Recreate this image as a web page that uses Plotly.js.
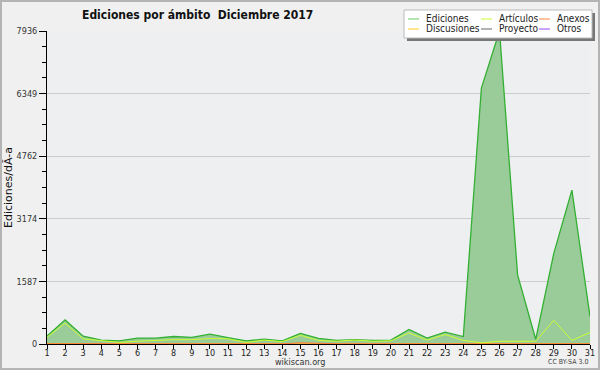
<!DOCTYPE html>
<html><head><meta charset="utf-8">
<script src="https://cdn.plot.ly/plotly-3.0.1.min.js"></script>
<style>
html,body{margin:0;padding:0;background:#f0f0f0;}
#wrap{width:596px;height:366px;border:2px solid #b4b4b4;}
#chart{width:596px;height:366px;}
</style></head>
<body><div id="wrap"><div id="chart"></div></div>
<script>
const days = Array.from({length:31},(_,i)=>i+1);
const ediciones = [200,610,200,100,80,150,150,190,170,250,160,80,120,80,270,140,90,110,90,100,370,150,300,190,6490,7936,1750,120,2300,3900,700];
const articulos = [170,530,130,90,40,70,90,110,110,140,130,40,100,60,220,90,70,100,70,80,280,100,240,90,30,70,70,70,600,90,290];
const anexos = [5,10,15,10,5,5,5,5,5,5,5,5,5,5,30,10,5,5,5,5,5,5,5,5,5,5,5,5,5,5,5];
const discusiones = [10,15,20,10,10,10,10,10,10,10,10,10,10,10,10,10,10,10,10,10,10,10,10,10,10,10,10,10,10,10,10];
const proyecto = [0,0,0,0,0,0,0,0,0,0,0,0,0,0,0,0,0,0,0,0,0,0,0,0,0,0,0,0,0,0,0];
const otros = [0,0,0,0,0,0,0,0,0,0,0,0,0,0,0,0,0,0,0,0,0,0,0,0,0,0,0,0,0,0,0];
const yTickVals = [0,1587.2,3174.4,4761.6,6348.8,7936];
const yTickText = ['0','1587','3174','4762','6349','7936'];
const legendNames = ['Ediciones','Artículos','Anexos','Discusiones','Proyecto','Otros'];
const colors = {Ediciones:'#33b033',Artículos:'#ccff33',Anexos:'#ff7733',Discusiones:'#ffcc33',Proyecto:'#555555',Otros:'#9933ff'};
const legendColors = ['#66cc66','#ccff33','#ff8844','#ffcc22','#666666','#9944ff'];

const FONT = 'DejaVu Sans, sans-serif';
const CFONT = 'DejaVu Sans Condensed, DejaVu Sans, sans-serif';
// pixel helpers (page pixels -> paper coords of the plot area)
const L=47,R=590,T=31,B=344;
const px=x=>(x-L)/(R-L), py=y=>(B-y)/(B-T);

const traces = [
 {x:days,y:ediciones,name:'Ediciones',mode:'lines',fill:'tozeroy',fillcolor:'#99cc99',line:{color:colors['Ediciones'],width:1.3}},
 {x:days,y:otros,name:'Otros',mode:'lines',line:{color:colors['Otros'],width:1}},
 {x:days,y:proyecto,name:'Proyecto',mode:'lines',line:{color:colors['Proyecto'],width:1}},
 {x:days,y:discusiones,name:'Discusiones',mode:'lines',line:{color:colors['Discusiones'],width:1}},
 {x:days,y:anexos,name:'Anexos',mode:'lines',line:{color:colors['Anexos'],width:1}},
 {x:days,y:articulos,name:'Artículos',mode:'lines',line:{color:colors['Artículos'],width:1}}
];

const shapes = [];
const annotations = [];
// legend box with shadow
shapes.push({type:'rect',xref:'paper',yref:'paper',x0:px(407),x1:px(595),y0:py(41),y1:py(13),fillcolor:'#777777',line:{width:0},layer:'above'});
shapes.push({type:'rect',xref:'paper',yref:'paper',x0:px(404),x1:px(592),y0:py(38),y1:py(10),fillcolor:'#ffffff',line:{color:'#bbbbbb',width:1},layer:'above'});
const colX=[[408,424],[481,497],[539,555]];
const rowY=[19,29];
legendNames.forEach((n,i)=>{
  const c=i%3,r=Math.floor(i/3);
  shapes.push({type:'line',xref:'paper',yref:'paper',x0:px(colX[c][0]),x1:px(colX[c][0]+11),y0:py(rowY[r]),y1:py(rowY[r]),line:{color:legendColors[i],width:1},layer:'above'});
  annotations.push({xref:'paper',yref:'paper',x:px(colX[c][1]),y:py(rowY[r]),xanchor:'left',yanchor:'middle',text:n,showarrow:false,font:{family:CFONT,size:10,color:'#222'}});
});
annotations.push({xref:'paper',yref:'paper',x:px(300),y:py(362),xanchor:'center',yanchor:'middle',text:'wikiscan.org',showarrow:false,font:{family:CFONT,size:9,color:'#333'}});
annotations.push({xref:'paper',yref:'paper',x:px(590),y:py(362),xanchor:'right',yanchor:'middle',text:'CC BY-SA 3.0',showarrow:false,font:{family:CFONT,size:7,color:'#444'}});

const layout = {
 width:596,height:366,
 paper_bgcolor:'#f0f0f0',plot_bgcolor:'#eeeff1',
 margin:{l:45,r:8,t:29,b:24,pad:0},
 showlegend:false,
 title:{text:'<b>Ediciones por ámbito  Diciembre 2017</b>',x:197/600,xanchor:'center',xref:'container',y:1-13/366,yanchor:'middle',yref:'container',font:{family:CFONT,size:12,color:'#111'}},
 xaxis:{range:[1,31],tickvals:days,ticktext:days.map(String),showgrid:false,zeroline:false,showline:true,linecolor:'#000',linewidth:1,ticks:'outside',ticklen:4,tickcolor:'#000',ticklabelstandoff:-4,tickfont:{family:CFONT,size:9,color:'#222'},fixedrange:true},
 yaxis:{range:[0,7936],tickvals:yTickVals,ticktext:yTickText,showgrid:true,gridcolor:'#cccccc',gridwidth:1,zeroline:false,showline:true,linecolor:'#000',linewidth:1,ticks:'outside',ticklen:7,tickcolor:'#000',tickfont:{family:CFONT,size:9,color:'#333'},
   minor:{tickmode:'linear',tick0:0,dtick:396.8,ticks:'outside',ticklen:4,tickcolor:'#000',showgrid:false},
   title:{text:'Ediciones/dÃ-a',font:{family:FONT,size:11,color:'#111'},standoff:8}},
 shapes:shapes,annotations:annotations
};
Plotly.newPlot('chart',traces,layout,{displayModeBar:false,staticPlot:true});
</script></body></html>
